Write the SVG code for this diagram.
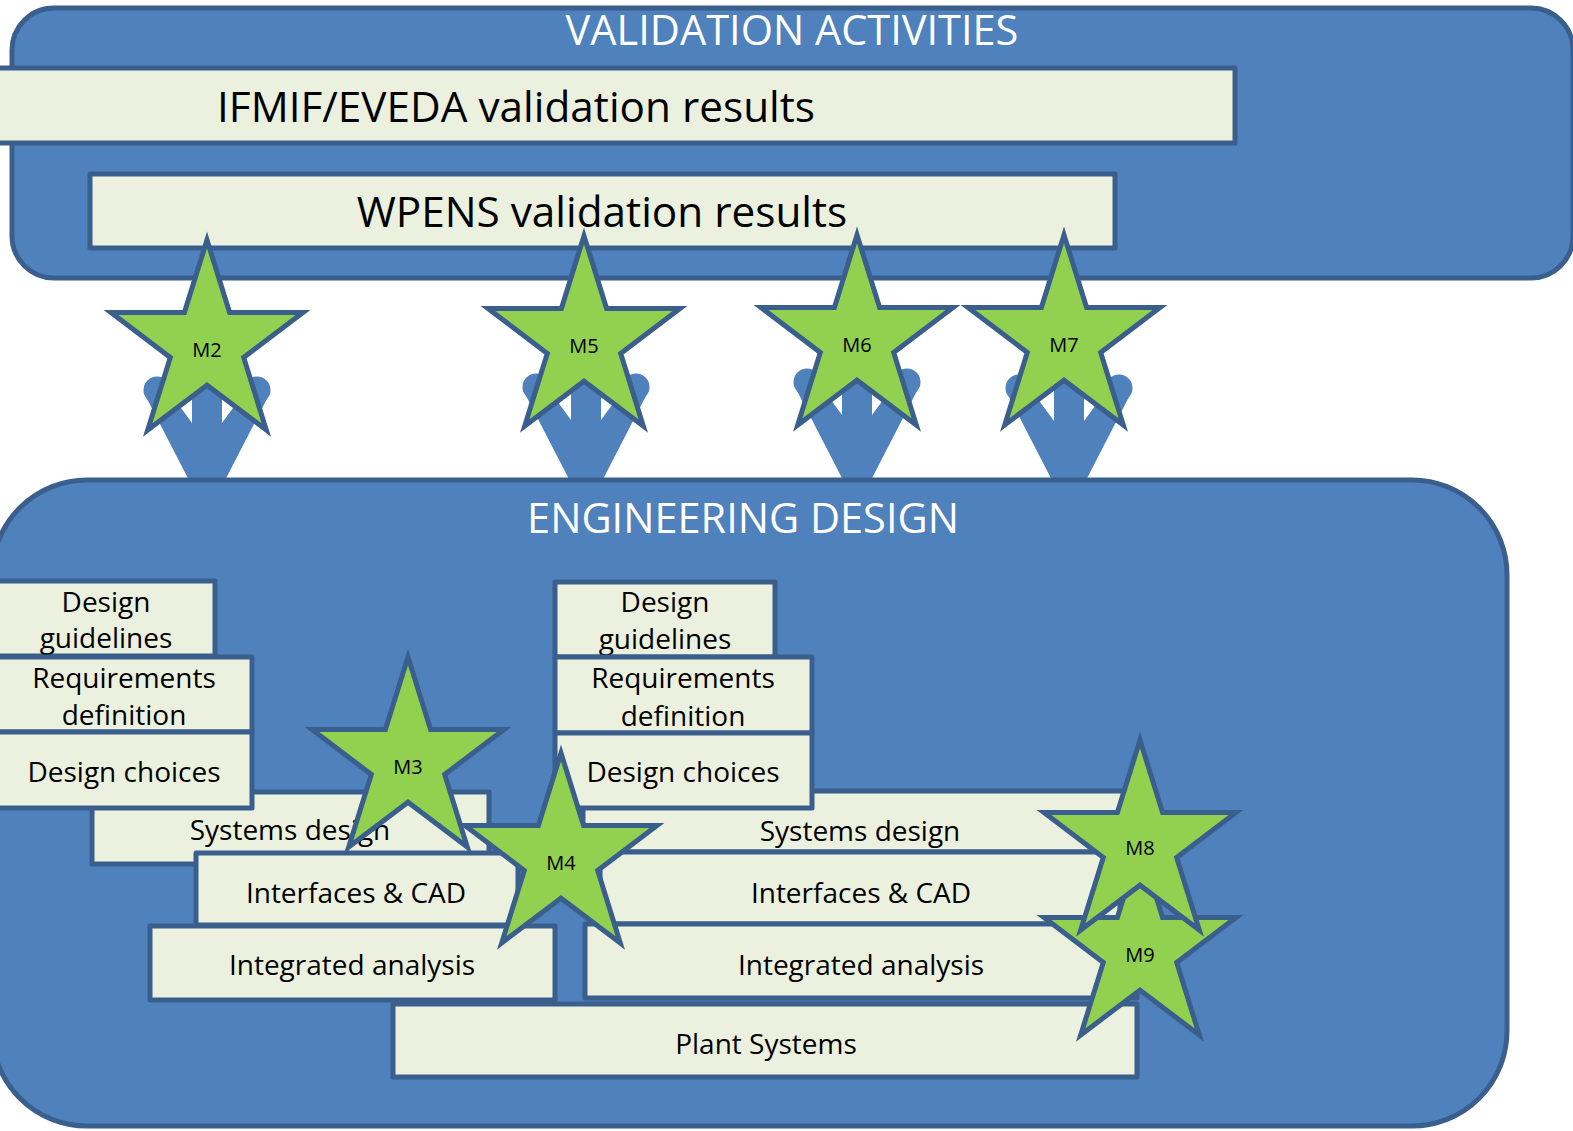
<svg xmlns="http://www.w3.org/2000/svg" xmlns:xlink="http://www.w3.org/1999/xlink" width="1573" height="1131" viewBox="0 0 1573 1131">
<defs>
<style>
.cont{fill:#4f81bd;stroke:#3a5f8c;stroke-width:5}
.box{fill:#ebf1de;stroke:#3a5f8c;stroke-width:5;stroke-linejoin:round}
.star{fill:#92d050;stroke:#3a5f8c;stroke-width:5;stroke-linejoin:miter}
.arr{fill:#4f81bd}
.t{font-family:"Open Sans","Noto Sans",sans-serif;font-size:28px;fill:#000;text-anchor:middle}
.big{font-family:"Open Sans","Noto Sans",sans-serif;font-size:42.3px;fill:#000;text-anchor:middle}
.title{font-family:"Open Sans","Noto Sans",sans-serif;font-size:41.5px;fill:#fff;text-anchor:middle}
.m{font-family:"Open Sans","Noto Sans",sans-serif;font-size:20px;fill:#000;text-anchor:middle}
</style>
<path id="starShape" d="M96,0 L118.6,72.6 L192,72.6 L132.7,117.4 L155.3,190 L96,145.2 L36.7,190 L59.3,117.4 L0,72.6 L73.4,72.6 Z"/>
<g id="arrowShape">
<path d="M-63,3 L-13,100 L13,100 L63,3 L37,3 L15,33 L15,-10 L-15,-10 L-15,33 L-37,3 Z"/>
<circle cx="-50" cy="0" r="13.5"/>
<circle cx="50" cy="0" r="13.5"/>
</g>
</defs>

<g id="validation-activities">
<rect class="cont" x="12" y="8" width="1561" height="270" rx="42"/>
<text class="title" x="792" y="45">VALIDATION ACTIVITIES</text>
</g>
<g id="ifmif">
<rect class="box" x="-10" y="68" width="1245" height="75"/>
<text class="big" x="516" y="122">IFMIF/EVEDA validation results</text>
</g>
<g id="wpens">
<rect class="box" x="90" y="174" width="1025" height="74"/>
<text class="big" x="602" y="227">WPENS validation results</text>
</g>

<g id="connectors" class="arr">
<use xlink:href="#arrowShape" transform="translate(207,390)"/>
<use xlink:href="#arrowShape" transform="translate(586,387)"/>
<use xlink:href="#arrowShape" transform="translate(857,382)"/>
<use xlink:href="#arrowShape" transform="translate(1069,388)"/>
</g>

<g id="engineering-design">
<rect class="cont" x="-8" y="480" width="1515" height="646" rx="95"/>
<text class="title" x="743" y="533">ENGINEERING DESIGN</text>
</g>

<g id="design-guidelines-1">
<rect class="box" x="-5" y="581" width="220" height="75"/>
<text class="t" x="106" y="612">Design</text>
<text class="t" x="106" y="648">guidelines</text>
</g>
<g id="requirements-1">
<rect class="box" x="-5" y="657" width="257" height="75"/>
<text class="t" x="124" y="688">Requirements</text>
<text class="t" x="124" y="725">definition</text>
</g>
<g id="systems-design-1">
<rect class="box" x="92" y="792" width="397" height="72"/>
<text class="t" x="290" y="840">Systems design</text>
</g>
<g id="design-choices-1">
<rect class="box" x="-5" y="732" width="257" height="76"/>
<text class="t" x="124" y="782">Design choices</text>
</g>
<g id="interfaces-1">
<rect class="box" x="196" y="853" width="322" height="72"/>
<text class="t" x="356" y="903">Interfaces &amp; CAD</text>
</g>
<g id="integrated-1">
<rect class="box" x="150" y="926" width="405" height="74"/>
<text class="t" x="352" y="975">Integrated analysis</text>
</g>

<g id="design-guidelines-2">
<rect class="box" x="555" y="582" width="220" height="75"/>
<text class="t" x="665" y="612">Design</text>
<text class="t" x="665" y="649">guidelines</text>
</g>
<g id="requirements-2">
<rect class="box" x="555" y="657" width="257" height="76"/>
<text class="t" x="683" y="688">Requirements</text>
<text class="t" x="683" y="726">definition</text>
</g>
<g id="systems-design-2">
<rect class="box" x="583" y="791" width="552" height="61"/>
<text class="t" x="860" y="841">Systems design</text>
</g>
<g id="design-choices-2">
<rect class="box" x="555" y="733" width="257" height="75"/>
<text class="t" x="683" y="782">Design choices</text>
</g>
<g id="interfaces-2">
<rect class="box" x="600" y="852" width="520" height="72"/>
<text class="t" x="861" y="903">Interfaces &amp; CAD</text>
</g>
<g id="integrated-2">
<rect class="box" x="585" y="924" width="552" height="74"/>
<text class="t" x="861" y="975">Integrated analysis</text>
</g>
<g id="plant-systems">
<rect class="box" x="393" y="1004" width="744" height="73"/>
<text class="t" x="766" y="1054">Plant Systems</text>
</g>

<g id="M2"><use class="star" xlink:href="#starShape" x="111" y="240"/><text class="m" x="207" y="357">M2</text></g>
<g id="M5"><use class="star" xlink:href="#starShape" x="488" y="236"/><text class="m" x="584" y="353">M5</text></g>
<g id="M6"><use class="star" xlink:href="#starShape" x="761" y="235"/><text class="m" x="857" y="352">M6</text></g>
<g id="M7"><use class="star" xlink:href="#starShape" x="968" y="235"/><text class="m" x="1064" y="352">M7</text></g>
<g id="M3"><use class="star" xlink:href="#starShape" x="312" y="657"/><text class="m" x="408" y="774">M3</text></g>
<g id="M4"><use class="star" xlink:href="#starShape" x="465" y="753"/><text class="m" x="561" y="870">M4</text></g>
<g id="M9"><use class="star" xlink:href="#starShape" x="1044" y="845"/><text class="m" x="1140" y="962">M9</text></g>
<g id="M8"><use class="star" xlink:href="#starShape" x="1044" y="740"/><text class="m" x="1140" y="855">M8</text></g>
</svg>
